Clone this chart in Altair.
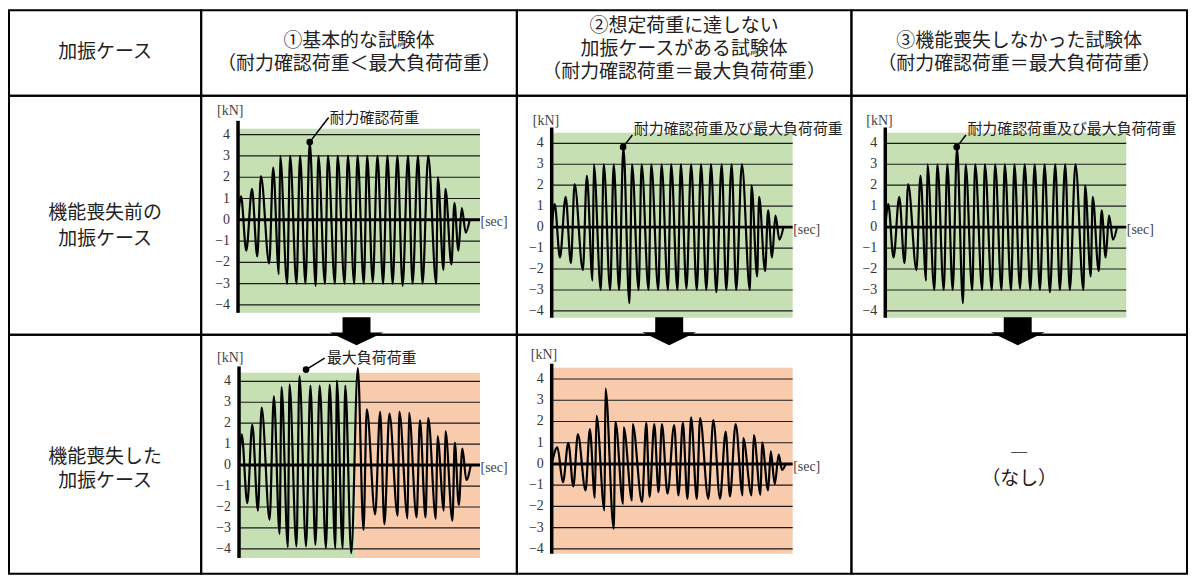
import altair as alt
import pandas as pd

JP = "Noto Sans CJK JP"
SERIF = "Liberation Serif"

# ---------------- table texts ----------------
HEADER_TEXTS = [
    "加振ケース",
    "①基本的な試験体\n（耐力確認荷重＜最大負荷荷重）",
    "②想定荷重に達しない\n加振ケースがある試験体\n（耐力確認荷重＝最大負荷荷重）",
    "③機能喪失しなかった試験体\n（耐力確認荷重＝最大負荷荷重）",
]
ROW_LABELS = ["機能喪失前の\n加振ケース", "機能喪失した\n加振ケース"]
NONE_TEXT = "―\n（なし）"
NOTE_A = "耐力確認荷重"
NOTE_BC = "耐力確認荷重及び最大負荷荷重"
NOTE_D = "最大負荷荷重"
UNIT_Y = "[kN]"
UNIT_X = "[sec]"
Y_TICKS = [-4, -3, -2, -1, 0, 1, 2, 3, 4]
Y_TICK_LABELS = ["−4", "−3", "−2", "−1", "0", "1", "2", "3", "4"]
GRID_LEVELS = [-4, -3, -2, -1, 1, 2, 3, 4]

# ---------------- waveforms (time, load in kN) ----------------
WAVE_T = [0, 3.0, 8.3, 14.0, 19.3, 23.0, 31.3, 35.3, 41.0, 42.3,
          49.3, 52.3, 58.7, 62.3, 67.7, 72.0, 78.0, 80.7, 87.3, 90.3,
          97.3, 100.0, 107.0, 110.3, 116.7, 120.0, 126.3, 129.7, 135.3, 140.0,
          145.7, 150.0, 155.3, 160.0, 165.3, 170.7, 175.3, 180.7, 185.3, 191.0,
          199.0, 200.7, 206.3, 208.3, 214.3, 217.3, 221.3, 224.7, 228.7, 232.7]
WAVE_A = [0, 1.1, -1.45, 1.45, -1.72, 2.05, -2.05, 2.45, -2.55, 3.0,
          -3.0, 3.0, -3.0, 3.0, -3.0, 3.65, -3.1, 3.0, -3.0, 3.0,
          -3.0, 3.0, -3.0, 3.0, -3.0, 3.0, -3.0, 3.0, -2.93, 3.0,
          -3.0, 3.0, -3.0, 3.0, -3.1, 3.0, -3.0, 3.0, -3.0, 3.0,
          -3.0, 2.0, -2.35, 1.45, -2.1, 0.8, -1.45, 0.55, -0.6, 0]
WAVE_B = [0, 1.1, -1.45, 1.45, -1.72, 2.05, -2.05, 2.45, -2.55, 3.0,
          -3.0, 3.0, -3.0, 3.0, -3.0, 3.8, -3.63, 3.0, -3.0, 3.0,
          -3.0, 3.0, -3.0, 3.0, -3.0, 3.0, -3.0, 3.0, -2.93, 3.0,
          -3.0, 3.0, -3.0, 3.0, -3.1, 3.0, -3.0, 3.0, -3.0, 3.0,
          -3.0, 2.0, -2.35, 1.45, -2.1, 0.8, -1.45, 0.55, -0.6, 0]
LOSS_T = [0, 2.7, 8.3, 13.3, 19.0, 22.7, 30.7, 35.0, 40.7, 42.7,
          49.0, 50.7, 57.7, 60.7, 67.3, 71.7, 76.7, 81.0, 87.3, 91.0,
          96.7, 98.3, 104.0, 106.7, 112.7, 119.3, 125.0, 128.3, 136.7, 141.7,
          146.0, 151.0, 159.3, 161.0, 169.3, 170.7, 178.3, 181.7, 187.3, 190.0,
          197.7, 199.3, 205.7, 207.3, 214.3, 216.7, 220.7, 224.3, 228.3, 232.7]
LOSS_V = [0, 1.47, -1.82, 1.93, -2.17, 2.74, -2.61, 3.28, -3.28, 3.72,
          -3.91, 3.85, -3.88, 4.25, -3.88, 3.8, -3.8, 3.8, -3.96, 3.84,
          -3.96, 4.04, -3.96, 3.8, -4.2, 4.63, -3.09, 2.66, -2.35, 2.54,
          -2.82, 2.46, -2.41, 2.54, -2.54, 2.5, -2.49, 2.14, -2.5, 2.25,
          -2.57, 1.38, -2.17, 1.62, -2.65, 1.08, -1.9, 0.79, -0.71, 0]
AFTER_T = [0, 5.7, 11.3, 16.7, 21.7, 26.3, 34.0, 38.3, 43.3, 45.0,
           53.0, 54.0, 62.3, 64.0, 71.7, 72.3, 80.7, 81.3, 90.7, 95.0,
           98.3, 103.0, 107.3, 110.7, 116.3, 123.0, 127.3, 131.7, 136.3, 140.0,
           145.7, 149.0, 157.3, 162.3, 169.0, 174.7, 179.0, 184.7, 191.7, 192.3,
           200.7, 203.0, 209.7, 211.3, 217.3, 220.0, 224.0, 228.0, 231.3, 235.0]
AFTER_V = [0, 0.78, -0.86, 1.0, -1.06, 1.4, -1.25, 1.64, -1.6, 2.27,
           -2.19, 3.55, -3.05, 1.98, -1.88, 1.72, -1.72, 1.88, -1.8, 1.95,
           -1.56, 1.88, -1.33, 1.88, -1.4, 1.83, -1.48, 1.95, -1.64, 2.19,
           -1.64, 2.16, -1.64, 2.06, -1.64, 1.52, -1.53, 1.88, -1.48, 1.22,
           -1.48, 1.36, -1.45, 1.02, -1.25, 0.59, -0.94, 0.44, -0.28, 0]

GREEN = "#c6e0b4"
ORANGE = "#f8cbad"

# ---------------- layout ----------------
COL_W = [193, 317, 336, 337]
ROW_H = [86, 240, 240]
ARROW = "M-0.52,-0.52L0.52,-0.52L0.52,0.04L1,0.04L0,0.52L-1,0.04L-0.52,0.04Z"
TEXT_SIZE = 19


def text_cell(w, h, text, y_first, lh):
    df = pd.DataFrame({"label": [text]})
    return alt.Chart(df).mark_text(
        font=JP, fontSize=TEXT_SIZE, lineBreak="\n", lineHeight=lh,
        align="center", baseline="middle", color="#222"
    ).encode(
        x=alt.value(w / 2), y=alt.value(y_first), text="label:N"
    ).properties(width=w, height=h)


def wave_cell(w, h, gx, zero, unit, t, v, bgs, right, bottom, axis_top,
              kn, arrow=None, note=None):
    xs = alt.Scale(domain=[-gx, w - gx], nice=False, zero=False)
    ys = alt.Scale(domain=[-(h - zero) / unit, zero / unit], nice=False, zero=False)

    def X(f):
        return alt.X(f, type="quantitative", scale=xs, axis=None)

    def Y(f):
        return alt.Y(f, type="quantitative", scale=ys, axis=None)

    layers = []
    layers.append(alt.Chart(pd.DataFrame(bgs)).mark_rect().encode(
        x=X("x0"), x2=alt.X2("x1"), y=Y("y0"), y2=alt.Y2("y1"),
        color=alt.Color("c:N", scale=None)))
    grid_df = pd.DataFrame({"y": GRID_LEVELS, "x0": 0, "x1": right})
    layers.append(alt.Chart(grid_df).mark_rule(color="#1a1a1a", strokeWidth=1.2).encode(
        x=X("x0"), x2=alt.X2("x1"), y=Y("y")))
    wave_df = pd.DataFrame({"t": t, "v": v})
    layers.append(alt.Chart(wave_df).mark_line(
        color="black", strokeWidth=2.2, interpolate="monotone").encode(
        x=X("t"), y=Y("v")))
    zero_df = pd.DataFrame({"y": [0], "x0": [0], "x1": [right]})
    layers.append(alt.Chart(zero_df).mark_rule(color="black", strokeWidth=3).encode(
        x=X("x0"), x2=alt.X2("x1"), y=Y("y")))
    ax_df = pd.DataFrame({"x": [0], "y0": [bottom], "y1": [axis_top]})
    layers.append(alt.Chart(ax_df).mark_rule(color="black", strokeWidth=3.5).encode(
        x=X("x"), y=Y("y0"), y2=alt.Y2("y1")))
    # y tick labels
    tick_df = pd.DataFrame({"y": Y_TICKS, "label": Y_TICK_LABELS, "x": -8})
    layers.append(alt.Chart(tick_df).mark_text(
        align="right", baseline="middle", font=SERIF, fontSize=14, color="#333").encode(
        x=X("x"), y=Y("y"), text="label:N"))
    unit_df = pd.DataFrame({"t": [kn[0], right + 0.5], "v": [kn[1], -0.12],
                            "label": [UNIT_Y, UNIT_X]})
    layers.append(alt.Chart(unit_df).mark_text(
        align="left", baseline="middle", font=SERIF, fontSize=14, color="#444").encode(
        x=X("t"), y=Y("v"), text="label:N"))
    if note is not None:
        dot_df = pd.DataFrame({"t": [note["dot"][0]], "v": [note["dot"][1]]})
        layers.append(alt.Chart(dot_df).mark_point(
            filled=True, size=45, color="black", opacity=1).encode(x=X("t"), y=Y("v")))
        lead_df = pd.DataFrame({"t0": [note["dot"][0]], "v0": [note["dot"][1]],
                                "t1": [note["end"][0]], "v1": [note["end"][1]]})
        layers.append(alt.Chart(lead_df).mark_rule(color="black", strokeWidth=1.5).encode(
            x=X("t0"), x2=alt.X2("t1"), y=Y("v0"), y2=alt.Y2("v1")))
        lab_df = pd.DataFrame({"t": [note["text"][0]], "v": [note["text"][1]],
                               "label": [note["label"]]})
        layers.append(alt.Chart(lab_df).mark_text(
            align="left", baseline="middle", font=JP, fontSize=15, color="#222").encode(
            x=X("t"), y=Y("v"), text="label:N"))
    if arrow is not None:
        arr_df = pd.DataFrame({"t": [arrow[0]], "v": [arrow[1]]})
        layers.append(alt.Chart(arr_df).mark_point(
            shape=ARROW, size=2916, filled=True, color="black", opacity=1, strokeWidth=0).encode(
            x=X("t"), y=Y("v")))
    return alt.layer(*layers).properties(width=w, height=h)


cells = []
# header row (y of first line in cell pixels)
cells.append(text_cell(COL_W[0], ROW_H[0], HEADER_TEXTS[0], 42, 23))
cells.append(text_cell(COL_W[1], ROW_H[0], HEADER_TEXTS[1], 31, 23))
cells.append(text_cell(COL_W[2], ROW_H[0], HEADER_TEXTS[2], 16, 23))
cells.append(text_cell(COL_W[3], ROW_H[0], HEADER_TEXTS[3], 31, 23))

# row 2: before loss of function
cells.append(text_cell(COL_W[0], ROW_H[1], ROW_LABELS[0], 118, 25.5))
cells.append(wave_cell(
    COL_W[1], ROW_H[1], 37, 124.5, 21.375, WAVE_T, WAVE_A,
    [{"x0": 0, "x1": 243, "y0": -4.37, "y1": 4.28, "c": GREEN}],
    243, -4.37, 4.65, (-21, 5.12), arrow=(119, -5.24),
    note={"dot": (72.0, 3.65), "end": (91, 4.81), "text": (92, 4.78), "label": NOTE_A}))
cells.append(wave_cell(
    COL_W[2], ROW_H[1], 35, 131.85, 21.04, WAVE_T, WAVE_B,
    [{"x0": 0, "x1": 242, "y0": -4.33, "y1": 4.51, "c": GREEN}],
    242, -4.33, 4.75, (-19, 5.08), arrow=(118, -4.97),
    note={"dot": (71.7, 3.82), "end": (81, 4.4), "text": (82.5, 4.68), "label": NOTE_BC}))
cells.append(wave_cell(
    COL_W[3], ROW_H[1], 34, 131.85, 21.04, WAVE_T, WAVE_B,
    [{"x0": 0, "x1": 242, "y0": -4.33, "y1": 4.51, "c": GREEN}],
    242, -4.33, 4.75, (-19, 5.08), arrow=(133, -4.97),
    note={"dot": (71.7, 3.82), "end": (81, 4.4), "text": (82.5, 4.68), "label": NOTE_BC}))

# row 3: loss of function
cells.append(text_cell(COL_W[0], ROW_H[2], ROW_LABELS[1], 123, 23.5))
cells.append(wave_cell(
    COL_W[1], ROW_H[2], 38, 130.85, 21.04, LOSS_T, LOSS_V,
    [{"x0": 0, "x1": 116.7, "y0": -4.43, "y1": 4.41, "c": GREEN},
     {"x0": 116.7, "x1": 242, "y0": -4.43, "y1": 4.41, "c": ORANGE}],
    242, -4.43, 4.71, (-22, 5.13),
    note={"dot": (67.3, 4.56), "end": (86, 5.11), "text": (88.3, 5.13), "label": NOTE_D}))
cells.append(wave_cell(
    COL_W[2], ROW_H[2], 35, 129.7, 21.33, AFTER_T, AFTER_V,
    [{"x0": 0, "x1": 242, "y0": -4.23, "y1": 4.53, "c": ORANGE}],
    242, -4.23, 4.72, (-21, 5.14)))
cells.append(text_cell(COL_W[3], ROW_H[2], NONE_TEXT, 120, 25))

chart = alt.concat(
    *cells, columns=4, spacing=0, bounds="flush", align="each"
).properties(padding=0).configure_view(stroke="black", strokeWidth=2)

chart.save("out.html", embed_options={"renderer": "svg", "actions": False})
